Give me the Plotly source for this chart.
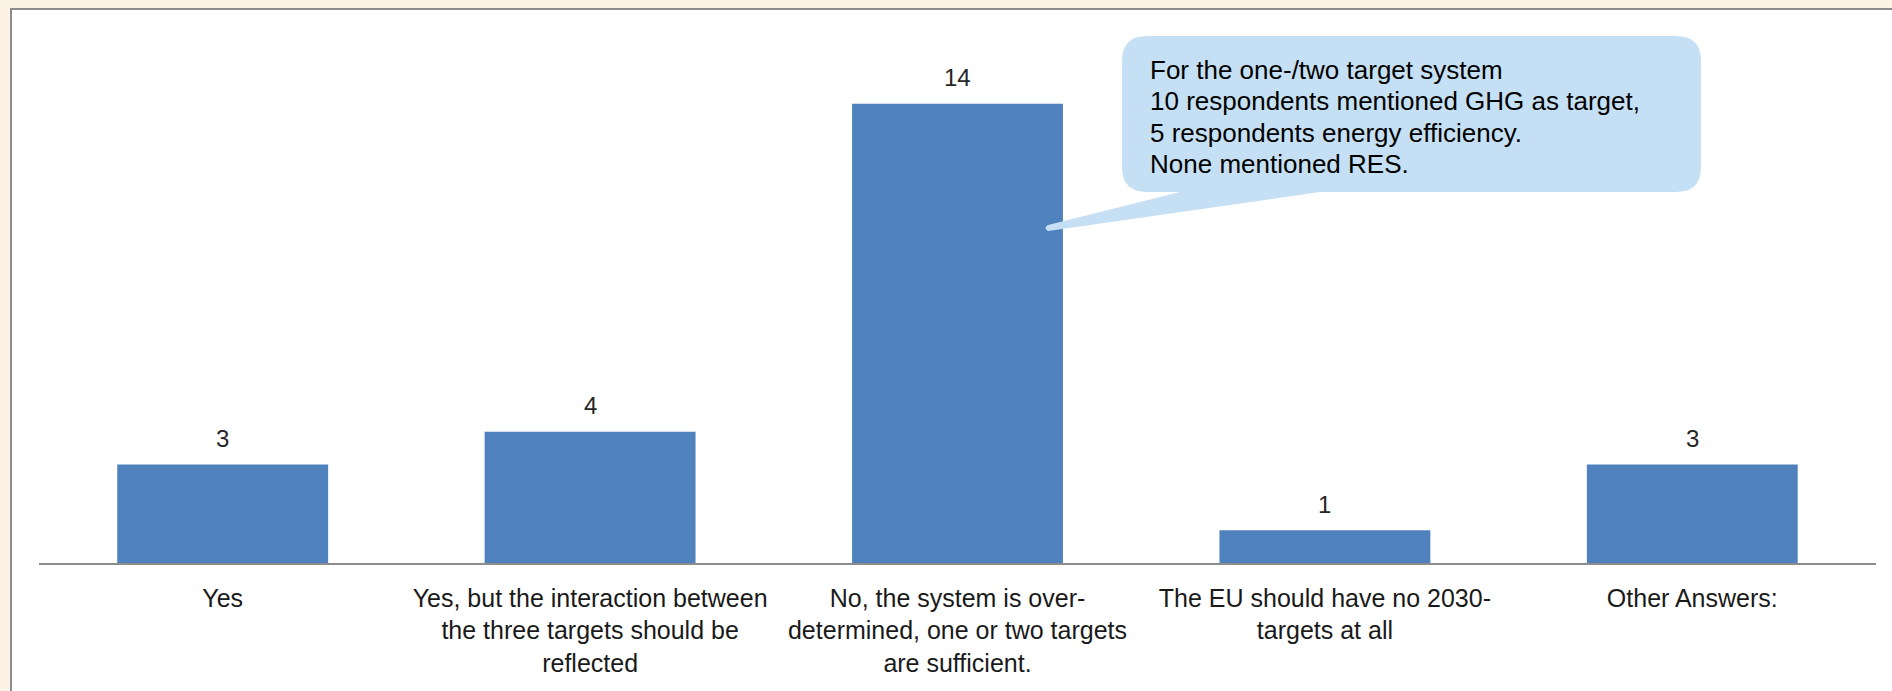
import plotly.graph_objects as go

categories = [
    "Yes",
    "Yes, but the interaction between<br>the three targets should be<br>reflected",
    "No, the system is over-<br>determined, one or two targets<br>are sufficient.",
    "The EU should have no 2030-<br>targets at all",
    "Other Answers:",
]
values = [3, 4, 14, 1, 3]
callout_lines = [
    "For the one-/two target system",
    "10 respondents mentioned GHG as target,",
    "5 respondents energy efficiency.",
    "None mentioned RES.",
]

W, H = 1892, 691
L, R, T, B = 39, 1876, 38, 563   # plot area in pixels
PW, PH = R - L, B - T


def px(x):
    return (x - L) / PW


def py(y):
    return (B - y) / PH


fig = go.Figure()
fig.add_trace(go.Bar(
    x=list(range(len(categories))), y=values,
    marker=dict(color="#4F81BD", line=dict(width=0)),
    hoverinfo="skip",
))

annotations = []
for i, v in enumerate(values):
    annotations.append(dict(
        x=i, y=v, xref="x", yref="y", text=str(v), showarrow=False,
        yanchor="middle", yshift=26,
        font=dict(family="Liberation Sans, Arial", size=24, color="#262626"),
    ))

line_y = [70, 101, 133, 164]
for t, yy in zip(callout_lines, line_y):
    annotations.append(dict(
        x=px(1148), y=py(yy), xref="paper", yref="paper", text=t, showarrow=False,
        xanchor="left", yanchor="middle",
        font=dict(family="Liberation Sans, Arial", size=26, color="#000000"),
    ))

# callout bubble path
bx0, bx1, by0, by1, r = 1122, 1701, 36, 192, 25


def P(x, y):
    return f"{px(x):.6f},{py(y):.6f}"


path = (
    f"M {P(bx0 + r, by0)} L {P(bx1 - r, by0)} Q {P(bx1, by0)} {P(bx1, by0 + r)} "
    f"L {P(bx1, by1 - r)} Q {P(bx1, by1)} {P(bx1 - r, by1)} "
    f"L {P(1320, by1)} L {P(1048, 231)} Q {P(1043, 228)} {P(1048, 225)} L {P(1180, by1)} "
    f"L {P(bx0 + r, by1)} Q {P(bx0, by1)} {P(bx0, by1 - r)} "
    f"L {P(bx0, by0 + r)} Q {P(bx0, by0)} {P(bx0 + r, by0)} Z"
)

shapes = [
    # white frame with grey border (right/bottom edges off-canvas)
    dict(type="rect", xref="paper", yref="paper", layer="below",
         x0=px(11), x1=px(1930), y0=py(730), y1=py(9),
         fillcolor="white", line=dict(color="#8C8C8C", width=2)),
    dict(type="path", xref="paper", yref="paper", path=path, layer="above",
         fillcolor="#C5E0F4", line=dict(width=0)),
]

fig.update_layout(
    width=W, height=H,
    margin=dict(l=L, r=W - R, t=T, b=H - B, pad=0),
    paper_bgcolor="#FDF2E6", plot_bgcolor="rgba(0,0,0,0)",
    bargap=0.426, showlegend=False,
    annotations=annotations, shapes=shapes,
    xaxis=dict(
        tickmode="array", tickvals=list(range(len(categories))), ticktext=categories,
        range=[-0.5, len(categories) - 0.5], showgrid=False, zeroline=False,
        showline=True, linecolor="#8C8C8C", linewidth=1.5, ticks="",
        tickfont=dict(family="Liberation Sans, Arial", size=25, color="#1a1a1a"),
        ticklabelstandoff=12,
    ),
    yaxis=dict(range=[0, 16], visible=False, showgrid=False, zeroline=False),
)

fig.write_html("out.html")
